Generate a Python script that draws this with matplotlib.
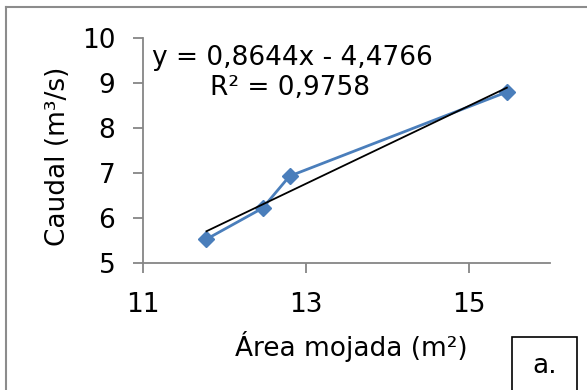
import matplotlib
matplotlib.use("Agg")
import matplotlib.pyplot as plt
from matplotlib.patches import Rectangle
from matplotlib.lines import Line2D
import numpy as np

# data
area = [11.78, 12.47, 12.80, 15.47]     # m2
caudal = [5.53, 6.22, 6.93, 8.80]       # m3/s
slope, intercept = 0.8644, -4.4766
r2 = 0.9758

x_ticks = [11, 13, 15]
y_ticks = [5, 6, 7, 8, 9, 10]

plt.rcParams["font.family"] = "DejaVu Sans"
FS = 19
GRAY = "#868686"

W, H = 587, 390
fig = plt.figure(figsize=(W / 100, H / 100), dpi=100)
ax = fig.add_axes([143 / W, 1 - 263 / H, (550 - 143) / W, (263 - 38) / H])

ax.plot(area, caudal, "-D", color="#4a7ebb", linewidth=2, markersize=8, zorder=3)
xt = np.array([min(area), max(area)])
ax.plot(xt, slope * xt + intercept, color="black", linewidth=1.3, zorder=4)

ax.set_xlim(11, 16)
ax.set_ylim(5, 10)
ax.set_xticks(x_ticks)
ax.set_yticks(y_ticks)
for s in ["top", "right"]:
    ax.spines[s].set_visible(False)
for s in ["left", "bottom"]:
    ax.spines[s].set_color(GRAY)
    ax.spines[s].set_linewidth(1.3)
ax.tick_params(axis="both", direction="out", length=7, width=1.3, color=GRAY, labelsize=FS)
ax.tick_params(axis="x", pad=14)
ax.tick_params(axis="y", pad=13)

fig.text(152 / W, 1 - 58 / H, f"y = {slope:.4f}x - {abs(intercept):.4f}".replace(".", ","),
         fontsize=FS, va="center", ha="left")
fig.text(210 / W, 1 - 88 / H, f"R² = {r2:.4f}".replace(".", ","),
         fontsize=FS, va="center", ha="left")

fig.text(58 / W, 1 - 156 / H, "Caudal (m³/s)", fontsize=FS, rotation=90, va="center", ha="center")
fig.text(351 / W, 1 - 346 / H, "Área mojada (m²)", fontsize=FS, va="center", ha="center")

# outer frame (cropped: only top and left visible)
fig.add_artist(Line2D([6 / W, 1], [1 - 7 / H, 1 - 7 / H], color="#8c8c8c", linewidth=1.5, transform=fig.transFigure))
fig.add_artist(Line2D([6 / W, 6 / W], [0, 1 - 7 / H], color="#8c8c8c", linewidth=1.5, transform=fig.transFigure))

# panel label box
fig.add_artist(Rectangle((512 / W, -0.05), (577 - 512) / W, 0.05 + (390 - 337) / H,
                         fill=False, edgecolor="black", linewidth=1.2, transform=fig.transFigure))
fig.text(545 / W, 1 - 366 / H, "a.", fontsize=FS, va="center", ha="center")

fig.savefig("out.png", dpi=100)
